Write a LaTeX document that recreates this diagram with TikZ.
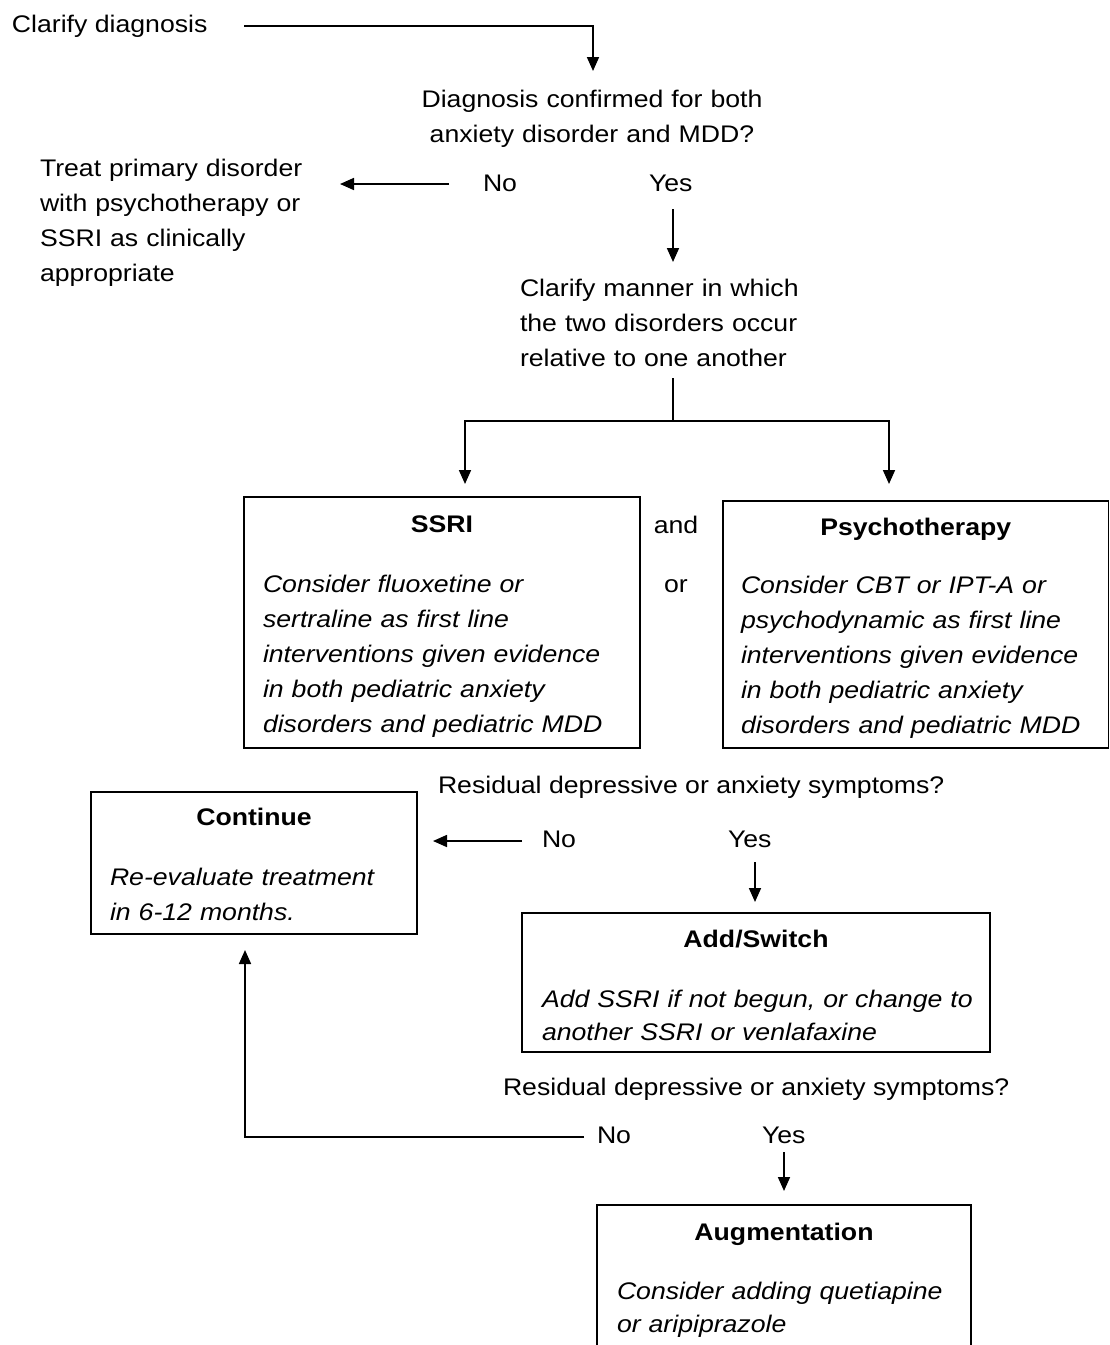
\documentclass[tikz,border=0pt]{standalone}
\usepackage{fontspec}
\setmainfont{Liberation Sans}[FakeStretch=1.11]
\usetikzlibrary{arrows.meta}
\begin{document}
\begin{tikzpicture}[x=1pt,y=-1pt,
  every node/.style={inner sep=0pt,outer sep=0pt},
  fnt/.style={font=\fontsize{24}{35}\selectfont},
  lbl/.style={fnt,anchor=base west},
  clbl/.style={fnt,anchor=base},
  txt/.style={fnt,anchor=base west,align=left,text width=#1},
  ctxt/.style={fnt,anchor=base,align=center,text width=#1},
  body/.style={fnt,anchor=base west,align=left,text width=#1,font=\fontsize{24}{35}\selectfont\itshape},
  ttl/.style={anchor=base,font=\fontsize{24}{35}\selectfont\bfseries},
  box/.style={draw,line width=1.7pt,rectangle,anchor=north west},
  conn/.style={line width=1.7pt},
  arr/.style={line width=1.7pt,-{Triangle[length=14pt,width=12pt]}}
]
\useasboundingbox (0,0) rectangle (1110,1345);
\clip (0,0) rectangle (1110,1345);

% top texts
\node[lbl] (clar) at (12,32) {Clarify diagnosis};
\node[ctxt=380pt] (diag) at (592,107) {Diagnosis confirmed for both\\anxiety disorder and MDD?};
\node[txt=290pt] (treat) at (40,176) {Treat primary disorder\\with psychotherapy or\\SSRI as clinically\\appropriate};
\node[lbl] (no1) at (483,191) {No};
\node[lbl] (yes1) at (649,191) {Yes};
\node[txt=300pt] (manner) at (520,296) {Clarify manner in which\\the two disorders occur\\relative to one another};

% SSRI / Psychotherapy
\node[box,minimum width=396pt,minimum height=251pt] (ssribox) at (244,497) {};
\node[ttl] (ssrititle) at ([yshift=-35pt]ssribox.north) {SSRI};
\node[body=370pt] (ssribody) at ([xshift=19pt,yshift=-95pt]ssribox.north west)
  {Consider fluoxetine or\\sertraline as first line\\interventions given evidence\\in both pediatric anxiety\\disorders and pediatric MDD};
\node[clbl] (and) at (676,533) {and};
\node[clbl] (or) at (676,592) {or};
\node[box,minimum width=385.5pt,minimum height=247pt] (psybox) at (723,501) {};
\node[ttl] (psytitle) at ([yshift=-34pt]psybox.north) {Psychotherapy};
\node[body=360pt] (psybody) at ([xshift=18pt,yshift=-92pt]psybox.north west)
  {Consider CBT or IPT-A or\\psychodynamic as first line\\interventions given evidence\\in both pediatric anxiety\\disorders and pediatric MDD};

% first residual
\node[lbl] (res1) at (438,793) {Residual depressive or anxiety symptoms?};
\node[box,minimum width=326pt,minimum height=142pt] (contbox) at (91,792) {};
\node[ttl] (conttitle) at ([yshift=-33pt]contbox.north) {Continue};
\node[body=300pt] (contbody) at ([xshift=19pt,yshift=-93pt]contbox.north west)
  {Re-evaluate treatment\\in 6-12 months.};
\node[lbl] (no2) at (542,847) {No};
\node[lbl] (yes2) at (728,847) {Yes};

% add/switch
\node[box,minimum width=468pt,minimum height=139pt] (addbox) at (522,913) {};
\node[ttl] (addtitle) at ([yshift=-34pt]addbox.north) {Add/Switch};
\node[body=440pt] (addbody) at ([xshift=20pt,yshift=-94pt]addbox.north west)
  {Add SSRI if not begun, or change to\\[-2pt]another SSRI or venlafaxine};

% second residual
\node[lbl] (res2) at (503,1095) {Residual depressive or anxiety symptoms?};
\node[lbl] (no3) at (597,1143) {No};
\node[lbl] (yes3) at (762,1143) {Yes};

% augmentation (cut off at bottom)
\node[box,minimum width=374pt,minimum height=200pt] (augbox) at (597,1205) {};
\node[ttl] (augtitle) at ([yshift=-35pt]augbox.north) {Augmentation};
\node[body=350pt] (augbody) at ([xshift=20pt,yshift=-94pt]augbox.north west)
  {Consider adding quetiapine\\[-2pt]or aripiprazole};

% connector coordinates
\coordinate (c1s) at (244,26);
\coordinate (c1e) at (593,71);
\coordinate (n1s) at (449,184);
\coordinate (n1e) at (340,184);
\coordinate (y1s) at (673,209);
\coordinate (y1e) at (673,262);
\coordinate (sp0) at (673,378);
\coordinate (sp1) at (673,421);
\coordinate (spl) at (465,484);
\coordinate (spr) at (889,484);
\coordinate (n2s) at (522,841);
\coordinate (n2e) at (433,841);
\coordinate (y2s) at (755,862);
\coordinate (y2e) at (755,902);
\coordinate (n3s) at (584,1137);
\coordinate (n3e) at (245,950);
\coordinate (y3s) at (784,1152);
\coordinate (y3e) at (784,1191);

\draw[arr] (c1s) -| (c1e);
\draw[arr] (n1s) -- (n1e);
\draw[arr] (y1s) -- (y1e);
\draw[conn] (sp0) -- (sp1);
\draw[arr] (sp1) -| (spl);
\draw[arr] (sp1) -| (spr);
\draw[arr] (n2s) -- (n2e);
\draw[arr] (y2s) -- (y2e);
\draw[arr] (n3s) -| (n3e);
\draw[arr] (y3s) -- (y3e);
\end{tikzpicture}
\end{document}
